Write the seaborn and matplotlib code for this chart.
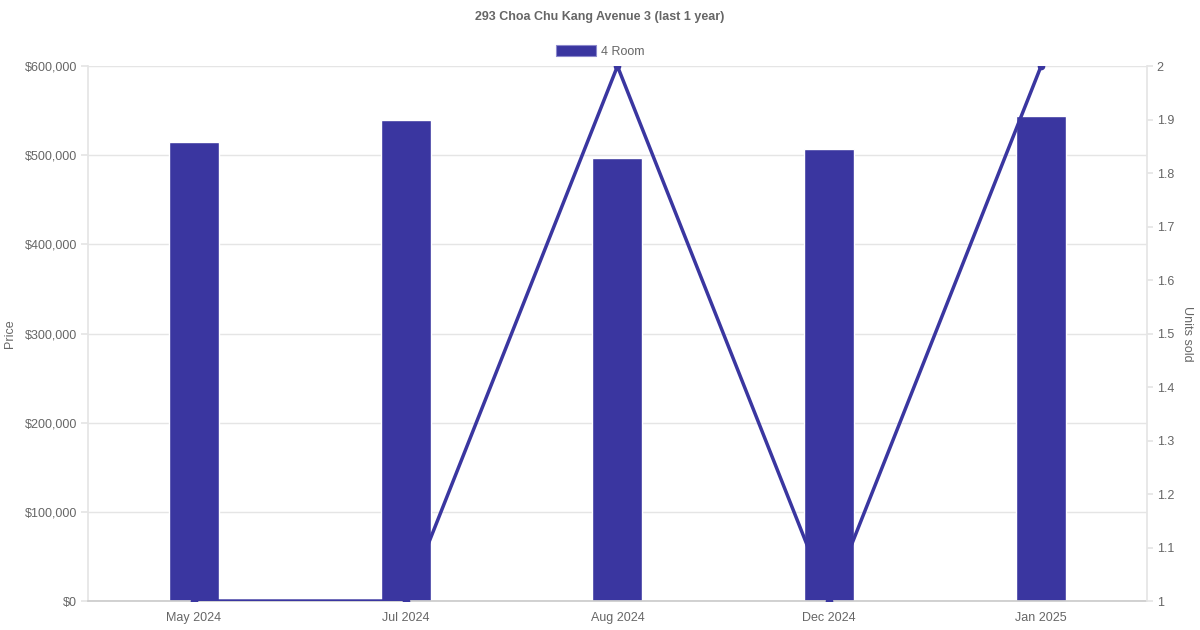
import numpy as np
import pandas as pd
import matplotlib
matplotlib.use("Agg")
import matplotlib.pyplot as plt
import seaborn as sns
from matplotlib.ticker import FuncFormatter, MultipleLocator

months = ["May 2024", "Jul 2024", "Aug 2024", "Dec 2024", "Jan 2025"]
prices = [514500, 539500, 496500, 507000, 544000]
units_sold = [1, 1, 2, 1, 2]
series_name = "4 Room"
title = "293 Choa Chu Kang Avenue 3 (last 1 year)"

color = "#3a36a0"
text_gray = "#666666"
grid_gray = "#e5e5e5"

sns.set_theme(style="white")
plt.rcParams["font.family"] = ["Liberation Sans", "DejaVu Sans"]

df = pd.DataFrame({"month": months, "price": prices, "units": units_sold})

fig = plt.figure(figsize=(12, 6.3), dpi=100)
ax = fig.add_axes([0.0733, 0.046, 0.8825, 0.849])

sns.barplot(data=df, x="month", y="price", color=color, width=0.236,
            saturation=1, ax=ax, zorder=2)
ax.set_xlim(-0.5, 4.5)
ax.set_ylim(0, 600000)
ax.yaxis.set_major_locator(MultipleLocator(100000))
ax.yaxis.set_major_formatter(FuncFormatter(lambda v, p: f"${v:,.0f}"))
ax.grid(axis="y", color=grid_gray, linewidth=1, zorder=0)
ax.set_axisbelow(True)
ax.set_xlabel("")
ax.set_ylabel("Price", color=text_gray, fontsize=9)
ax.yaxis.set_label_coords(-0.068, 0.5)
ax.tick_params(axis="y", colors=text_gray, labelsize=9, length=5,
               color=grid_gray, pad=3)
ax.tick_params(axis="x", colors=text_gray, labelsize=9, length=0, pad=8)
for side in ["top", "right"]:
    ax.spines[side].set_visible(False)
ax.spines["left"].set_color(grid_gray)
ax.spines["bottom"].set_color("#cccccc")

ax2 = ax.twinx()
sns.lineplot(data=df, x="month", y="units", color=color, linewidth=2.5,
             marker="o", markersize=5.5, markeredgewidth=0, ax=ax2, zorder=3)
ax2.set_ylim(1, 2)
ax2.yaxis.set_major_locator(MultipleLocator(0.1))
ax2.yaxis.set_major_formatter(FuncFormatter(lambda v, p: f"{v:g}"))
ax2.set_ylabel("Units sold", color=text_gray, fontsize=9, rotation=270,
               va="bottom")
ax2.yaxis.set_label_coords(1.0325, 0.5)
ax2.tick_params(axis="y", colors=text_gray, labelsize=9, length=4.5,
                color=grid_gray, pad=2.5)
for side in ["top", "left", "bottom"]:
    ax2.spines[side].set_visible(False)
ax2.spines["right"].set_color(grid_gray)

fig.text(0.5, 0.973, title, ha="center", va="center", fontsize=9,
         fontweight="bold", color=text_gray)

# legend box
fig.patches.append(plt.Rectangle((0.4633, 0.911), 0.0333, 0.0175,
                                 transform=fig.transFigure,
                                 facecolor=color, edgecolor="#8c89cc",
                                 linewidth=0.8))
fig.text(0.501, 0.9175, series_name, ha="left", va="center", fontsize=9,
         color=text_gray)

fig.savefig("out.png", dpi=100)
